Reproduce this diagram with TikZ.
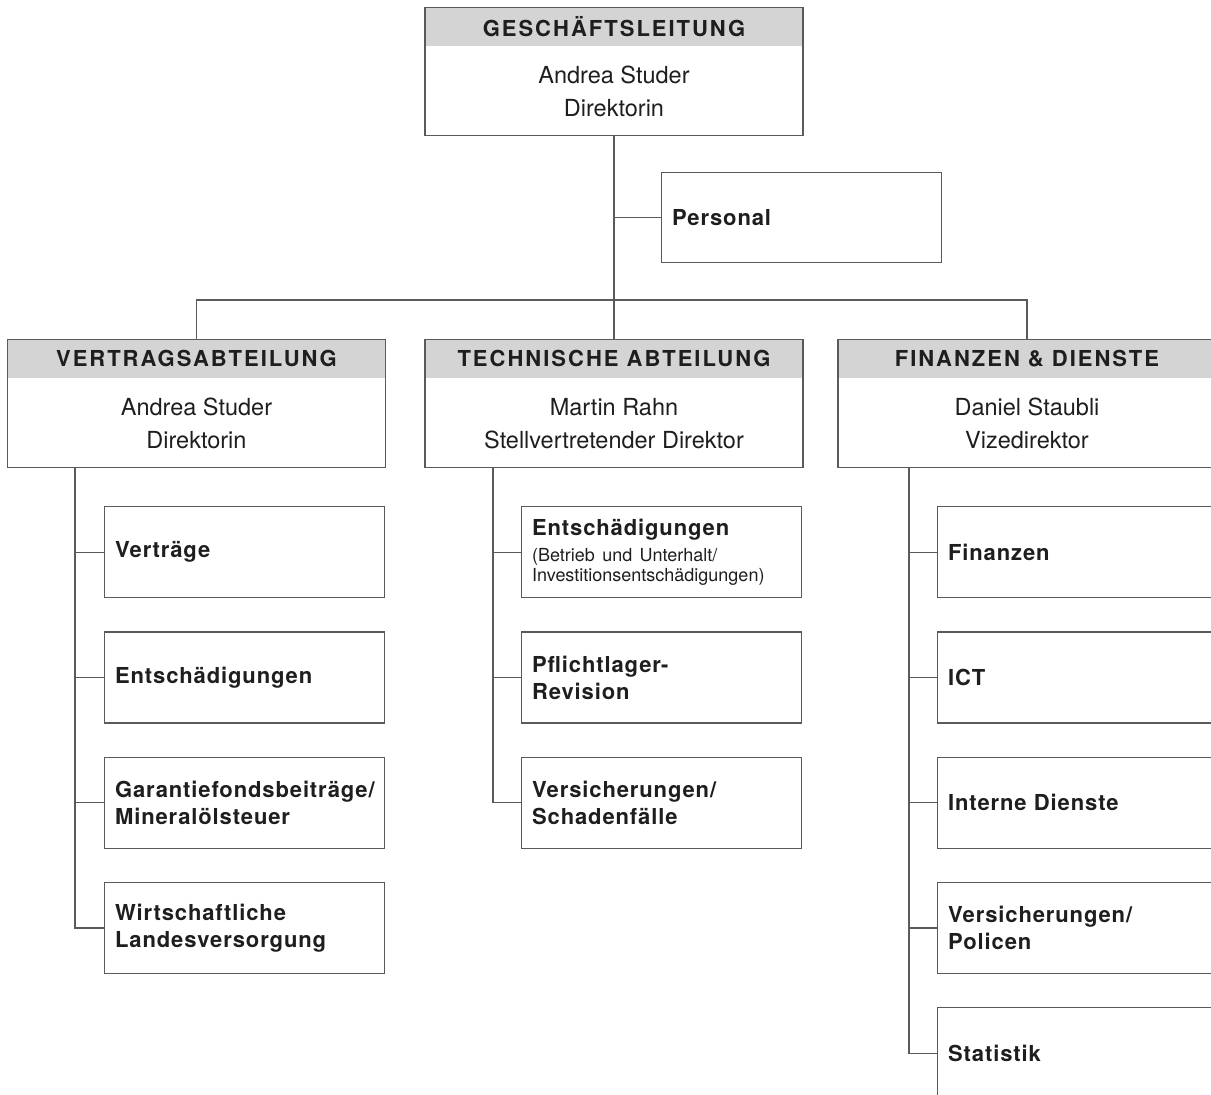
\documentclass[tikz,border=0pt]{standalone}
\usepackage{fontspec}
\setmainfont{TeX Gyre Heros}
\newfontfamily\headfont[LetterSpace=9]{TeX Gyre Heros}
\newfontfamily\labelfont[LetterSpace=4]{TeX Gyre Heros}
\usetikzlibrary{calc}

\definecolor{headgray}{HTML}{D4D4D4}
\definecolor{linegray}{HTML}{5A5A5A}
\definecolor{inkgray}{HTML}{1E1E1E}

\newcommand{\detail}[1]{{\normalfont\fontsize{18}{20}\selectfont #1\par}}

\tikzset{
  x=1pt, y=-1pt,
  link/.style={draw=linegray, line width=1.2pt},
  unitbox/.style={draw=linegray, line width=1.2pt, minimum width=378pt, minimum height=128pt, inner sep=0pt, anchor=north},
  unithead/.style={fill=headgray, minimum width=378pt, minimum height=39pt, inner sep=0pt, anchor=north, text=inkgray, font=\headfont\bfseries\fontsize{22}{25}\selectfont},
  unitname/.style={align=center, text=inkgray, font=\fontsize{23.5}{33}\selectfont},
  subunit/.style={draw=linegray, line width=1.2pt, minimum width=280pt, minimum height=91pt, text width=259pt, inner xsep=10.5pt, align=left, anchor=north west, text=inkgray, font=\labelfont\bfseries\fontsize{22}{27}\selectfont},
}

\begin{document}
\begin{tikzpicture}

    \useasboundingbox (0,0) rectangle (1211,1095);
    \clip (0,0) rectangle (1211,1095);

    % Geschaeftsleitung
    \node (gl-head) [unithead] at (614,7) {GESCHÄFTSLEITUNG};
    \node (gl) [unitbox] at (614,7) {};
    \node (gl-name) [unitname] at ($(gl-head.south)!0.5!(gl.south)$) {Andrea Studer\\Direktorin};
    \node (pers) [subunit, minimum height=90pt] at (661,172) {Personal};

    % Abteilungen
    \foreach \u/\cx/\title/\who/\role in {va/196.5/VERTRAGSABTEILUNG/Andrea Studer/Direktorin,
        ta/614/TECHNISCHE ABTEILUNG/Martin Rahn/Stellvertretender Direktor,
        fd/1027/FINANZEN \& DIENSTE/Daniel Staubli/Vizedirektor} {
      \node (\u-head) [unithead] at (\cx,339) {\title};
      \node (\u) [unitbox] at (\cx,339) {};
      \node (\u-name) [unitname] at ($(\u-head.south)!0.5!(\u.south)$) {\who\\\role};
    }

    \foreach \txt [count=\i] in {Verträge, Entschädigungen, {Garantiefondsbeiträge/\\Mineralölsteuer}, {Wirtschaftliche\\Landesversorgung}}
    \node (va\i) [subunit] at (104,{506+125.3*(\i-1)}) {\txt};

    \foreach \txt [count=\i] in {{Entschädigungen\\[6pt]\detail{(Betrieb und Unterhalt/\\Investitionsentschädigungen)}}, {Pflichtlager-\\Revision}, {Versicherungen/\\Schadenfälle}}
    \node (ta\i) [subunit] at (521,{506+125.3*(\i-1)}) {\txt};

    \foreach \txt [count=\i] in {Finanzen, ICT, Interne Dienste, {Versicherungen/\\Policen}, Statistik}
    \node (fd\i) [subunit] at (937,{506+125.3*(\i-1)}) {\txt};

    % Verbindungen
    \coordinate (bar) at (614,300);
    \draw[link] (gl.south) -- (ta.north);
    \draw[link] (gl.south |- pers.west) -- (pers.west);
    \draw[link] (va.north) |- (bar) -| (fd.north);

    \coordinate (va-spine) at (75,467);
    \coordinate (ta-spine) at (493,467);
    \coordinate (fd-spine) at (909,467);
    \draw[link] (va-spine) |- (va4.west);
    \draw[link] (ta-spine) |- (ta3.west);
    \draw[link] (fd-spine) |- (fd5.west);
    \foreach \i in {1,2,3} \draw[link] (va-spine |- va\i.west) -- (va\i.west);
    \foreach \i in {1,2} \draw[link] (ta-spine |- ta\i.west) -- (ta\i.west);
    \foreach \i in {1,...,4} \draw[link] (fd-spine |- fd\i.west) -- (fd\i.west);

\end{tikzpicture}
\end{document}
